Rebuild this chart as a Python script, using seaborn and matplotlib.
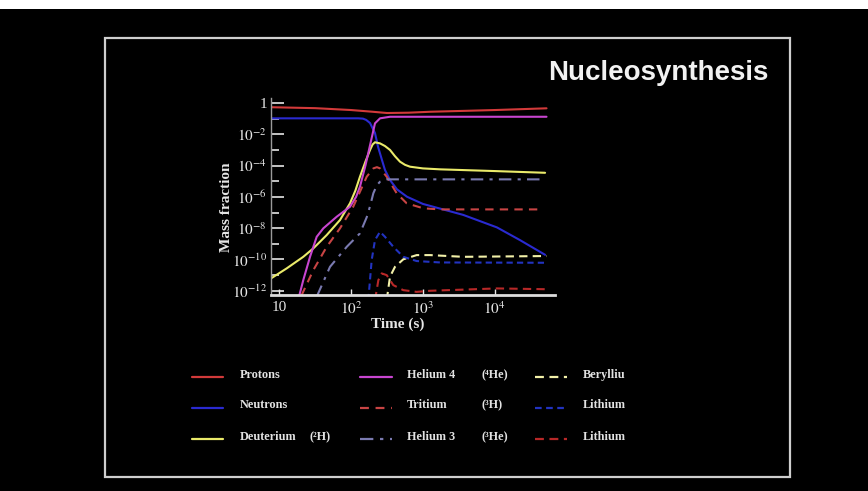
import numpy as np
import seaborn as sns
import matplotlib.pyplot as plt
from matplotlib.lines import Line2D
from matplotlib.patches import Rectangle

# values, as log10(time in s) and log10(mass fraction)
protons_logt = [0.886, 1.5, 2.0, 2.3, 2.5, 2.8, 3.1, 3.6, 4.0, 4.72]
protons_logx = [-0.27, -0.33, -0.45, -0.56, -0.64, -0.62, -0.56, -0.5, -0.45, -0.34]

neutrons_logt = [0.886, 1.5, 2.1, 2.166, 2.21, 2.264, 2.333, 2.375, 2.43, 2.472, 2.542, 2.639, 2.778, 3.0, 3.24, 3.56, 4.03, 4.35, 4.70]
neutrons_logx = [-0.98, -0.98, -0.98, -1.0, -1.08, -1.28, -1.92, -2.79, -3.64, -4.28, -4.92, -5.52, -5.99, -6.45, -6.75, -7.15, -7.95, -8.76, -9.7]

deut_logt = [0.886, 1.104, 1.335, 1.475, 1.661, 1.846, 1.985, 2.06, 2.124, 2.20, 2.264, 2.30, 2.333, 2.403, 2.472, 2.542, 2.611, 2.681, 2.75, 2.82, 3.0, 3.24, 4.0, 4.70]
deut_logx = [-11.21, -10.57, -9.83, -9.29, -8.44, -7.48, -6.41, -5.6, -4.71, -3.75, -3.0, -2.65, -2.51, -2.58, -2.75, -3.0, -3.4, -3.75, -3.95, -4.07, -4.18, -4.24, -4.35, -4.46]

he4_logt = [1.28, 1.335, 1.429, 1.522, 1.614, 1.80, 1.985, 2.07, 2.124, 2.20, 2.264, 2.333, 2.403, 2.542, 3.0, 4.72]
he4_logx = [-12.3, -11.32, -9.83, -8.55, -8.01, -7.27, -6.63, -6.0, -5.35, -4.0, -2.7, -1.30, -0.98, -0.88, -0.88, -0.88]

tritium_logt = [1.31, 1.475, 1.661, 1.846, 2.03, 2.218, 2.31, 2.36, 2.403, 2.496, 2.635, 2.774, 3.005, 3.24, 4.65]
tritium_logx = [-12.3, -10.68, -9.19, -8.01, -6.63, -4.71, -4.18, -4.1, -4.18, -4.71, -5.77, -6.41, -6.73, -6.80, -6.80]

he3_logt = [1.52, 1.707, 1.94, 2.124, 2.218, 2.264, 2.31, 2.36, 2.403, 2.496, 3.0, 4.65]
he3_logx = [-12.4, -10.47, -9.19, -8.33, -7.3, -6.6, -5.77, -5.25, -5.03, -4.88, -4.88, -4.88]

be7_logt = [2.496, 2.542, 2.611, 2.727, 2.913, 3.1, 3.56, 4.72]
be7_logx = [-12.6, -11.1, -10.47, -9.99, -9.72, -9.72, -9.83, -9.78]

li7_logt = [2.24, 2.287, 2.333, 2.403, 2.472, 2.588, 2.727, 2.913, 3.238, 4.72]
li7_logx = [-12.6, -10.04, -8.76, -8.23, -8.55, -9.19, -9.83, -10.10, -10.19, -10.21]

li6_logt = [2.333, 2.38, 2.426, 2.496, 2.588, 2.727, 2.913, 3.1, 4.03, 4.70]
li6_logx = [-12.6, -11.32, -10.89, -11.0, -11.64, -11.96, -12.07, -12.0, -11.85, -11.9]

series = [
    ("Protons", "", protons_logt, protons_logx, "#d23a3a", None),
    ("Neutrons", "", neutrons_logt, neutrons_logx, "#2a2ad0", None),
    ("Deuterium", "(²H)", deut_logt, deut_logx, "#eaea6a", None),
    ("Helium 4", "(⁴He)", he4_logt, he4_logx, "#c845d0", None),
    ("Tritium", "(³H)", tritium_logt, tritium_logx, "#c84444", (4, 3)),
    ("Helium 3", "(³He)", he3_logt, he3_logx, "#7a7ab0", (6, 3, 1.5, 3)),
    ("Berylliu", "", be7_logt, be7_logx, "#f2f0a8", (4, 2.5)),
    ("Lithium", "", li7_logt, li7_logx, "#2233c0", (3, 2)),
    ("Lithium", "", li6_logt, li6_logx, "#b82828", (4, 2.5)),
]

W, H = 868, 491

sns.set_style("dark", {"axes.facecolor": "black", "figure.facecolor": "black"})
plt.rcParams["font.family"] = ["Liberation Serif", "DejaVu Serif"]
plt.rcParams["mathtext.fontset"] = "stix"

fig = plt.figure(figsize=(W / 100, H / 100), dpi=100)
fig.patch.set_facecolor("black")

def fx(x):
    return x / W

def fy(y):
    return 1 - y / H

# white strip at top and slide frame
fig.add_artist(Rectangle((0, fy(9)), 1, 9 / H, transform=fig.transFigure, color="white", lw=0))
fig.add_artist(Rectangle((fx(105), fy(477)), (790 - 105) / W, (477 - 38) / H,
                         transform=fig.transFigure, fill=False, edgecolor="#cfcfcf", lw=1.6))

ax = fig.add_axes([fx(271), fy(295), (555 - 271) / W, (295 - 98.3) / H])
ax.set_facecolor("black")

for name, iso, lt, lx, col, dash in series:
    line_ax = sns.lineplot(x=10 ** np.array(lt), y=10 ** np.array(lx), color=col,
                           linewidth=1.5, ax=ax, estimator=None, legend=False)
    if dash is not None:
        line_ax.lines[-1].set_dashes(dash)

ax.set_xscale("log")
ax.set_yscale("log")
ax.set_xlim(10 ** 0.886, 10 ** 4.838)
ax.set_ylim(10 ** -12.27, 10 ** 0.3)
ax.grid(False)

ax.set_xticks([10, 1e2, 1e3, 1e4], ["10", "$10^{2}$", "$10^{3}$", "$10^{4}$"])
ax.xaxis.set_minor_locator(plt.NullLocator())
ax.set_yticks([10.0 ** e for e in range(-12, 1, 2)],
              ["$10^{-12}$", "$10^{-10}$", "$10^{-8}$", "$10^{-6}$", "$10^{-4}$", "$10^{-2}$", "1"])
ax.set_yticks([10.0 ** e for e in range(-11, 0, 2)], minor=True)
ax.yaxis.set_minor_formatter(plt.NullFormatter())
ax.tick_params(axis="y", which="major", direction="in", length=9, width=1.2, colors="#e6e6e6",
               labelsize=11, pad=3, left=True)
ax.tick_params(axis="y", which="minor", direction="in", length=6, width=1.2, colors="#e6e6e6", left=True)
ax.tick_params(axis="x", which="major", direction="in", length=4, width=1, colors="#e6e6e6",
               labelsize=11, pad=4, bottom=True)

for s in ["top", "right"]:
    ax.spines[s].set_visible(False)
ax.spines["bottom"].set_color("#dcdcdc")
ax.spines["bottom"].set_linewidth(2)
ax.spines["left"].set_color("#9a9a9a")
ax.spines["left"].set_linewidth(1)

ax.set_xlabel("Time (s)", color="#e6e6e6", fontsize=11, fontweight="bold")
ax.xaxis.set_label_coords(0.445, -0.115)
ax.set_ylabel("Mass fraction", color="#e6e6e6", fontsize=11, fontweight="bold")
ax.yaxis.set_label_coords(-0.135, 0.445)

fig.text(fx(768), fy(79.5), "Nucleosynthesis", ha="right", va="baseline", color="#f2f2f2",
         fontsize=20, fontweight="bold", family=["Liberation Sans", "DejaVu Sans"])

# legend drawn by hand, three columns
col_line = [(192, 223), (360, 392), (535, 567)]
col_text = [240, 407, 583]
col_iso = [310, 481, None]
row_line = [377, 408, 439]
row_text = [375, 405, 437]
for i, (name, iso, lt, lx, col, dash) in enumerate(series):
    c, r = i // 3, i % 3
    ln = Line2D([fx(col_line[c][0]), fx(col_line[c][1])], [fy(row_line[r])] * 2,
                transform=fig.transFigure, color=col, lw=1.6)
    if dash is not None:
        ln.set_dashes(dash)
    fig.add_artist(ln)
    fig.text(fx(col_text[c]), fy(row_text[r]), name, ha="left", va="center",
             color="#e2e2e2", fontsize=8.8, fontweight="bold")
    if iso:
        fig.text(fx(col_iso[c]), fy(row_text[r]), iso, ha="left", va="center",
                 color="#e2e2e2", fontsize=8.8, fontweight="bold")

fig.savefig("out.png", dpi=100, facecolor="black")
